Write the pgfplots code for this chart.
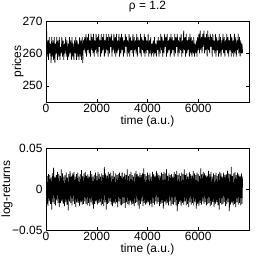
\documentclass[border=0pt]{standalone}
\usepackage{fontspec}
\setmainfont{Liberation Sans}
\usepackage{pgfplots}
\pgfplotsset{compat=1.18}
\pgfplotsset{matstyle/.style={
  scale only axis, width=203bp,
  xmin=0, xmax=8000, xtick={0,2000,4000,6000},
  scaled x ticks=false, scaled y ticks=false,
  /pgf/number format/1000 sep={},
  /pgf/number format/assume math mode=true,
  tick align=inside, tick pos=both,
  major tick length=3bp,
  axis line style={line width=0.5pt},
  every tick/.style={line width=0.5pt, black},
  tick label style={font=\fontsize{12}{13}\selectfont},
  label style={font=\fontsize{12}{13}\selectfont},
  title style={font=\fontsize{12}{13}\selectfont},
  xlabel={time (a.u.)},
  xlabel style={yshift=4bp},
  xticklabel style={yshift=1bp},
}}
\begin{document}
\begin{tikzpicture}
\useasboundingbox (0,0) rectangle (274bp,266bp);
\begin{axis}[matstyle, at={(46bp,164bp)}, anchor=south west, height=81bp,
  ymin=245, ymax=270, ytick={250,260,270},
  ylabel={prices}, ylabel style={at={(axis description cs:0,0.5)}, anchor=center, yshift=28bp},
  title={ρ = 1.2}]
\addplot[black, line width=0.7pt] coordinates {
(0,254)(25,267)(50,259)(75,264)(100,258)(125,265)(150,260)(175,263)(200,257)(225,265)
(250,259)(275,264)(300,258)(325,265)(350,257)(375,263)(400,260)(425,265)(450,258)(475,264)
(500,259)(525,265)(550,258)(575,262)(600,260)(625,265)(650,259)(675,264)(700,258)(725,263)
(750,260)(775,265)(800,259)(825,264)(850,258)(875,263)(900,259)(925,265)(950,260)(975,264)
(1000,258)(1025,265)(1050,259)(1075,263)(1100,258)(1125,264)(1150,260)(1175,265)(1200,258)(1225,264)
(1250,259)(1275,263)(1300,258)(1325,265)(1350,259)(1375,264)(1400,258)(1425,265)(1450,257)(1475,264)
(1500,261)(1525,265)(1550,260)(1575,266)(1600,259)(1625,265)(1650,261)(1675,266)(1700,260)(1725,264)
(1750,259)(1775,266)(1800,261)(1825,265)(1850,260)(1875,266)(1900,259)(1925,264)(1950,261)(1975,266)
(2000,260)(2025,265)(2050,259)(2075,266)(2100,262)(2125,264)(2150,259)(2175,266)(2200,260)(2225,265)
(2250,261)(2275,266)(2300,259)(2325,264)(2350,260)(2375,266)(2400,261)(2425,265)(2450,259)(2475,266)
(2500,260)(2525,265)(2550,262)(2575,266)(2600,259)(2625,264)(2650,261)(2675,266)(2700,260)(2725,265)
(2750,259)(2775,266)(2800,260)(2825,264)(2850,261)(2875,266)(2900,259)(2925,265)(2950,260)(2975,266)
(3000,261)(3025,265)(3050,259)(3075,264)(3100,260)(3125,266)(3150,262)(3175,265)(3200,259)(3225,264)
(3250,260)(3275,266)(3300,259)(3325,265)(3350,261)(3375,264)(3400,260)(3425,266)(3450,259)(3475,265)
(3500,261)(3525,264)(3550,260)(3575,266)(3600,259)(3625,265)(3650,262)(3675,264)(3700,260)(3725,266)
(3750,259)(3775,265)(3800,261)(3825,264)(3850,260)(3875,266)(3900,259)(3925,265)(3950,260)(3975,264)
(4000,261)(4025,266)(4050,259)(4075,264)(4100,260)(4125,265)(4150,259)(4175,263)(4200,260)(4225,264)
(4250,259)(4275,265)(4300,260)(4325,263)(4350,259)(4375,264)(4400,261)(4425,265)(4450,259)(4475,264)
(4500,260)(4525,266)(4550,261)(4575,265)(4600,259)(4625,264)(4650,260)(4675,266)(4700,262)(4725,265)
(4750,259)(4775,266)(4800,260)(4825,264)(4850,261)(4875,265)(4900,259)(4925,266)(4950,260)(4975,265)
(5000,261)(5025,264)(5050,259)(5075,266)(5100,260)(5125,265)(5150,262)(5175,266)(5200,259)(5225,264)
(5250,260)(5275,265)(5300,261)(5325,266)(5350,259)(5375,264)(5400,260)(5425,267)(5450,261)(5475,265)
(5500,259)(5525,266)(5550,260)(5575,264)(5600,261)(5625,265)(5650,259)(5675,266)(5700,260)(5725,265)
(5750,259)(5775,264)(5800,260)(5825,265)(5850,259)(5875,263)(5900,260)(5925,264)(5950,259)(5975,265)
(6000,261)(6025,266)(6050,260)(6075,267)(6100,261)(6125,265)(6150,260)(6175,266)(6200,262)(6225,267)
(6250,260)(6275,265)(6300,261)(6325,266)(6350,259)(6375,267)(6400,261)(6425,265)(6450,260)(6475,266)
(6500,262)(6525,265)(6550,259)(6575,266)(6600,261)(6625,264)(6650,260)(6675,266)(6700,259)(6725,265)
(6750,261)(6775,264)(6800,259)(6825,266)(6850,260)(6875,265)(6900,259)(6925,264)(6950,261)(6975,266)
(7000,260)(7025,265)(7050,259)(7075,264)(7100,261)(7125,266)(7150,260)(7175,265)(7200,259)(7225,264)
(7250,261)(7275,266)(7300,259)(7325,265)(7350,260)(7375,264)(7400,259)(7425,266)(7450,260)(7475,265)
(7500,259)(7525,264)(7550,261)(7575,266)(7600,260)(7625,265)(7650,259)(7675,264)(7700,260)(7725,263)(7750,260)
};
\end{axis}
\begin{axis}[matstyle, at={(46bp,36bp)}, anchor=south west, height=82bp,
  ymin=-0.05, ymax=0.05, ytick={-0.05,0,0.05},
  yticklabels={−0.05,0,0.05},
  ylabel={log-returns}, ylabel style={at={(axis description cs:0,0.5)}, anchor=center, yshift=39bp}]
\addplot[black, line width=0.7pt] coordinates {
(0,0.022)(25,-0.019)(50,0.016)(75,-0.021)(100,0.018)(125,-0.015)(150,0.017)(175,-0.018)(200,0.014)(225,-0.025)
(250,0.019)(275,-0.016)(300,0.026)(325,-0.018)(350,0.015)(375,-0.020)(400,0.017)(425,-0.014)(450,0.021)(475,-0.017)
(500,0.018)(525,-0.022)(550,0.016)(575,-0.017)(600,0.024)(625,-0.015)(650,0.019)(675,-0.018)(700,0.015)(725,-0.021)
(750,0.017)(775,-0.016)(800,0.020)(825,-0.019)(850,0.014)(875,-0.026)(900,0.018)(925,-0.015)(950,0.022)(975,-0.017)
(1000,0.016)(1025,-0.020)(1050,0.019)(1075,-0.015)(1100,0.021)(1125,-0.018)(1150,0.015)(1175,-0.022)(1200,0.018)(1225,-0.016)
(1250,0.020)(1275,-0.017)(1300,0.015)(1325,-0.021)(1350,0.018)(1375,-0.016)(1400,0.023)(1425,-0.019)(1450,0.016)(1475,-0.018)
(1500,0.019)(1525,-0.015)(1550,0.021)(1575,-0.018)(1600,0.016)(1625,-0.020)(1650,0.018)(1675,-0.017)(1700,0.015)(1725,-0.021)
(1750,0.022)(1775,-0.016)(1800,0.018)(1825,-0.019)(1850,0.015)(1875,-0.024)(1900,0.017)(1925,-0.018)(1950,0.020)(1975,-0.015)
(2000,0.016)(2025,-0.019)(2050,0.021)(2075,-0.017)(2100,0.018)(2125,-0.016)(2150,0.015)(2175,-0.020)(2200,0.019)(2225,-0.018)
(2250,0.017)(2275,-0.021)(2300,0.027)(2325,-0.016)(2350,0.019)(2375,-0.025)(2400,0.016)(2425,-0.018)(2450,0.021)(2475,-0.017)
(2500,0.018)(2525,-0.015)(2550,0.020)(2575,-0.019)(2600,0.016)(2625,-0.021)(2650,0.022)(2675,-0.017)(2700,0.015)(2725,-0.018)
(2750,0.019)(2775,-0.016)(2800,0.017)(2825,-0.022)(2850,0.018)(2875,-0.015)(2900,0.020)(2925,-0.019)(2950,0.016)(2975,-0.020)
(3000,0.021)(3025,-0.018)(3050,0.015)(3075,-0.017)(3100,0.019)(3125,-0.023)(3150,0.017)(3175,-0.016)(3200,0.024)(3225,-0.018)
(3250,0.016)(3275,-0.020)(3300,0.018)(3325,-0.015)(3350,0.021)(3375,-0.019)(3400,0.017)(3425,-0.018)(3450,0.015)(3475,-0.021)
(3500,0.019)(3525,-0.017)(3550,0.022)(3575,-0.016)(3600,0.018)(3625,-0.020)(3650,0.016)(3675,-0.024)(3700,0.020)(3725,-0.018)
(3750,0.017)(3775,-0.015)(3800,0.019)(3825,-0.021)(3850,0.025)(3875,-0.017)(3900,0.018)(3925,-0.019)(3950,0.016)(3975,-0.018)
(4000,0.020)(4025,-0.016)(4050,0.017)(4075,-0.020)(4100,0.019)(4125,-0.018)(4150,0.015)(4175,-0.022)(4200,0.021)(4225,-0.017)
(4250,0.018)(4275,-0.019)(4300,0.016)(4325,-0.015)(4350,0.022)(4375,-0.018)(4400,0.019)(4425,-0.016)(4450,0.017)(4475,-0.021)
(4500,0.016)(4525,-0.018)(4550,0.020)(4575,-0.017)(4600,0.018)(4625,-0.024)(4650,0.021)(4675,-0.016)(4700,0.019)(4725,-0.019)
(4750,0.024)(4775,-0.017)(4800,0.016)(4825,-0.020)(4850,0.019)(4875,-0.015)(4900,0.017)(4925,-0.021)(4950,0.018)(4975,-0.018)
(5000,0.015)(5025,-0.019)(5050,0.021)(5075,-0.016)(5100,0.018)(5125,-0.020)(5150,0.022)(5175,-0.027)(5200,0.017)(5225,-0.018)
(5250,0.019)(5275,-0.016)(5300,0.016)(5325,-0.021)(5350,0.020)(5375,-0.017)(5400,0.018)(5425,-0.019)(5450,0.024)(5475,-0.015)
(5500,0.017)(5525,-0.020)(5550,0.019)(5575,-0.018)(5600,0.015)(5625,-0.022)(5650,0.021)(5675,-0.016)(5700,0.018)(5725,-0.019)
(5750,0.016)(5775,-0.017)(5800,0.022)(5825,-0.020)(5850,0.019)(5875,-0.016)(5900,0.017)(5925,-0.024)(5950,0.020)(5975,-0.018)
(6000,0.018)(6025,-0.021)(6050,0.016)(6075,-0.017)(6100,0.025)(6125,-0.019)(6150,0.018)(6175,-0.015)(6200,0.021)(6225,-0.018)
(6250,0.019)(6275,-0.016)(6300,0.017)(6325,-0.020)(6350,0.016)(6375,-0.018)(6400,0.022)(6425,-0.017)(6450,0.018)(6475,-0.021)
(6500,0.021)(6525,-0.019)(6550,0.015)(6575,-0.016)(6600,0.019)(6625,-0.022)(6650,0.017)(6675,-0.018)(6700,0.020)(6725,-0.016)
(6750,0.016)(6775,-0.020)(6800,0.018)(6825,-0.025)(6850,0.021)(6875,-0.017)(6900,0.019)(6925,-0.019)(6950,0.015)(6975,-0.018)
(7000,0.020)(7025,-0.016)(7050,0.017)(7075,-0.021)(7100,0.018)(7125,-0.018)(7150,0.022)(7175,-0.016)(7200,0.019)(7225,-0.027)
(7250,0.018)(7275,-0.019)(7300,0.027)(7325,-0.017)(7350,0.016)(7375,-0.020)(7400,0.019)(7425,-0.018)(7450,0.021)(7475,-0.022)
(7500,0.017)(7525,-0.016)(7550,0.020)(7575,-0.019)(7600,0.018)(7625,-0.017)(7650,0.016)(7675,-0.020)(7700,0.019)(7725,-0.018)(7750,0.015)
};
\end{axis}
\end{tikzpicture}
\end{document}
